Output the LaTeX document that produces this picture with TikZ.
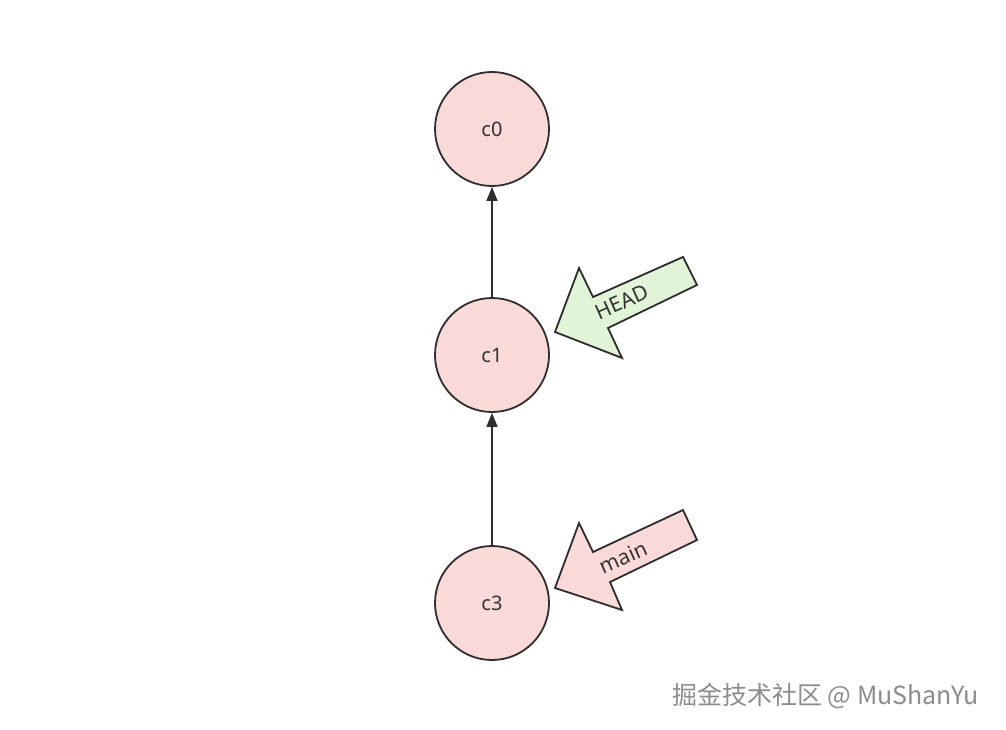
\documentclass[tikz,border=0pt]{standalone}
\usepackage{fontspec}
\setmainfont{Noto Sans}
\newfontfamily\cjk{Noto Sans CJK SC}
\usetikzlibrary{arrows.meta}
\definecolor{cfill}{HTML}{FADAD8}
\definecolor{gfill}{HTML}{E2F4D8}
\definecolor{strk}{HTML}{2E2E2E}
\definecolor{txt}{HTML}{333333}
\tikzset{
  commit/.style={circle, draw=strk, line width=1.8pt, fill=cfill, minimum size=114pt, inner sep=0pt, text=txt, font=\fontsize{20}{24}\selectfont},
  link/.style={draw=strk, line width=1.6pt, -{Triangle[length=14pt,width=11pt]}},
  ptr/.style={draw=strk, line width=1.8pt, line join=miter},
  ptrtext/.style={text=txt, font=\fontsize{21}{25}\selectfont, rotate=24, inner sep=0pt}
}
\begin{document}
\begin{tikzpicture}[x=1pt,y=-1pt]
\useasboundingbox (0,0) rectangle (1006,730);
\fill[white] (0,0) rectangle (1006,730);
\node[commit] (c0) at (492,129) {c0};
\node[commit] (c1) at (492,355) {c1};
\node[commit] (c3) at (492,603) {c3};
\draw[link] (c1) -- (c0);
\draw[link] (c3) -- (c1);
% HEAD pointer
\draw[ptr, fill=gfill] (555,332) -- (579,268) -- (593,297) -- (683,257) -- (697,285) -- (608,328) -- (622,358) -- cycle;
\node[ptrtext] (head) at (622,302) {HEAD};
% main pointer
\draw[ptr, fill=cfill] (555,588) -- (579,523) -- (593,552) -- (683,510) -- (697,540) -- (610,582) -- (622,610) -- cycle;
\node[ptrtext] (main) at (623,557) {main};
% watermark
\node[anchor=base west, text=black!45, font=\cjk\fontsize{25}{30}\selectfont, inner sep=0pt] (wm) at (672,704) {掘金技术社区 @ MuShanYu};
\end{tikzpicture}
\end{document}
